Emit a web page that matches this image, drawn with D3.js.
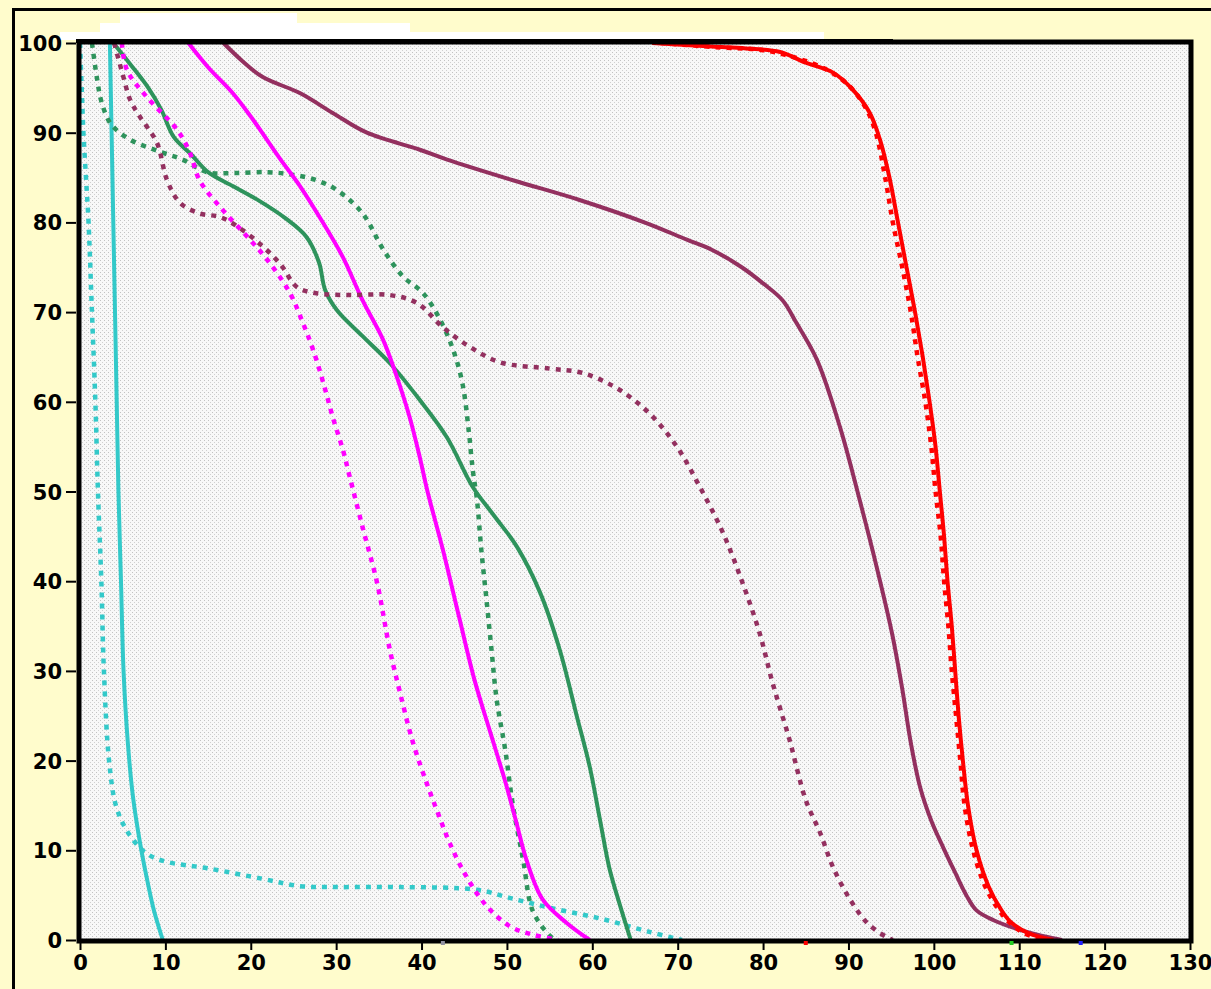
<!DOCTYPE html>
<html>
<head>
<meta charset="utf-8">
<script src="https://cdn.jsdelivr.net/npm/d3@7"></script>
<style>
  html, body { margin: 0; padding: 0; background: #fffccc; }
  svg { display: block; }
  .tick text { font-family: "DejaVu Sans", sans-serif; font-weight: bold; font-size: 21px; fill: #000; }
</style>
</head>
<body>
<svg id="chart" width="1211" height="989"></svg>
<script>
// ---------- data ----------
const xTicks = [0, 10, 20, 30, 40, 50, 60, 70, 80, 90, 100, 110, 120, 130];
const yTicks = [0, 10, 20, 30, 40, 50, 60, 70, 80, 90, 100];

// each series: [x, y] pairs
const cyanSolid = [[3.5,100],[3.7,90],[3.9,80],[4.1,70],[4.3,60],[4.5,50],[4.8,40],[5.1,30],[5.6,22],[6.2,16],[7.0,11],[7.8,7],[8.6,3.5],[9.2,1.5],[9.7,0]];
const cyanDotted = [[0,100],[0.2,95],[0.4,90],[0.7,85],[1.0,80],[1.4,70],[1.8,60],[2.1,50],[2.5,40],[2.8,30],[3.4,20],[4.2,15],[5.3,12.5],[6.8,10.5],[8.2,9.4],[10.2,8.7],[14.9,8.0],[21.5,6.8],[25.8,6.0],[30,5.9],[37.5,5.9],[46.5,5.6],[50.3,4.7],[55,3.6],[60.9,2.4],[66.7,0.9],[70.5,0]];
const greenSolid = [[3.9,100],[6,97.5],[8,95],[9.5,92.6],[11,89.5],[13,87.6],[15,85.6],[18,84],[21,82.4],[24,80.5],[26.5,78.4],[28,75.5],[28.7,72.5],[30.1,70.2],[33,67.4],[36.3,64.3],[39.8,60.2],[43,56],[46,50.5],[48.5,47.3],[51.2,43.8],[53.9,38.7],[56.2,32.3],[58.2,24.9],[59.7,19.3],[60.9,13.4],[62,8],[63.2,4],[64.5,0]];
const greenDotted = [[1.4,100],[2,96],[2.5,93.5],[3.6,91],[5.9,89.2],[9,88],[12,87],[14.9,85.6],[18,85.5],[22,85.6],[25,85.3],[27.7,84.7],[30.1,83.6],[33.1,81],[35.5,77],[37.8,74],[40.2,72.1],[42.2,69.1],[43.7,65.8],[44.8,62],[45.5,57],[46,52.4],[46.5,49],[47,43.5],[47.6,38],[48.2,32.3],[48.8,26.8],[49.8,21.2],[50.7,15],[51.9,8.9],[53,3.3],[54.7,0.8],[55.6,0]];
const magentaSolid = [[12.7,100],[15,97.3],[17.9,94.4],[20,91.8],[21.9,89.2],[23.5,87],[25.8,84],[28.5,79.9],[30.8,76.1],[33.1,71.3],[35.5,66.9],[37.1,62.8],[38.6,58.3],[39.8,53.8],[40.7,50],[42.5,43.5],[44.4,36],[46.2,29],[48.1,23],[49.7,18],[51,13.5],[52.3,8.9],[54.2,4.5],[57,1.9],[59.7,0]];
const magentaDotted = [[4.9,100],[5.5,97],[7.8,94],[11.4,90.3],[12.9,87.7],[14,84.7],[16.7,81.4],[19.6,78.4],[22.2,75.5],[24.6,72.1],[26.1,68.8],[27.3,65.8],[28.5,62.1],[29.6,58.3],[30.8,54.6],[31.6,51.6],[33.1,46],[34.8,39.8],[36.3,32.3],[37.5,27.5],[39,22],[40.6,17.5],[41.9,14.2],[43.3,10.8],[45.3,7],[47.7,3.7],[50.4,1.5],[53,0.6],[56,0]];
const maroonSolid = [[16.8,100],[19,98],[21.4,96.2],[25.8,94.4],[29.6,92.2],[33.6,90],[39.8,88.1],[43,87],[50.7,84.7],[58.5,82.5],[66.4,79.9],[71,78.1],[74.1,76.9],[77.5,75],[80,73.2],[82.3,71.3],[83.9,68.8],[86.3,64.7],[89,57.2],[91.3,49.1],[93.3,41.6],[95.1,34.2],[96.3,28],[97.3,22],[98.4,17],[99.7,13.3],[101.1,10.3],[102.5,7.5],[103.8,5],[105,3.3],[107,2.2],[110.9,0.9],[115,0]];
const maroonDotted = [[4,100],[5,96.5],[5.9,93.6],[7,91.8],[9,88.9],[10.2,84.7],[11.7,82.2],[14,81],[16.4,80.6],[18.5,79.5],[21.2,77.5],[23.5,75.3],[25.4,72.8],[27.7,72.1],[31.6,71.9],[36.3,71.9],[39.5,71],[42.5,68.3],[45.7,66.1],[49.2,64.4],[55,63.7],[58.9,63.2],[62.9,61.5],[66.7,58.7],[69.9,55],[72.6,50.5],[75.3,45.4],[77.6,39.8],[79.6,34.2],[81.1,28.7],[83.1,22.3],[85,15.6],[86.7,11.9],[88.2,8.1],[90.2,4.5],[92.2,1.9],[94.5,0.3],[95.2,0]];
const redSolid = [[67,100],[74,99.6],[78,99.4],[82,99],[85,97.8],[88.2,96.7],[90.5,94.8],[92.5,92.2],[93.7,89.2],[94.8,85],[95.8,80],[96.8,75],[97.8,70],[98.7,65],[99.5,60],[100.2,55],[100.7,50],[101.2,45],[101.6,40],[102.1,35],[102.5,30],[102.9,25],[103.4,20],[104,15],[105,10],[106.4,6],[107.8,3.5],[109,2],[111,0.8],[114,0]];
const redDotted = [[68,100],[75,99.5],[80,99.2],[84,98.3],[87.5,97],[90,95.3],[92,92.8],[93.2,90],[94.3,85],[95.2,80],[96.3,75],[97.3,70],[98.1,65],[99,60],[99.7,55],[100.2,50],[100.8,45],[101.2,40],[101.7,35],[102.1,30],[102.6,25],[103.1,20],[103.6,15],[104.6,10],[106,6],[107.5,3.5],[108.8,2],[110.5,0.8],[113,0]];

const seriesNames = ["cyanDotted","cyanSolid","greenDotted","greenSolid","magentaDotted","magentaSolid","maroonDotted","maroonSolid","redDotted","redSolid"];
const seriesData = [cyanDotted, cyanSolid, greenDotted, greenSolid, magentaDotted, magentaSolid, maroonDotted, maroonSolid, redDotted, redSolid];
const seriesColors = ["#33c9c9","#33c9c9","#2e935c","#2e935c","#ff00ff","#ff00ff","#93305f","#93305f","#ff0000","#ff0000"];
const seriesDashed = [true,false,true,false,true,false,true,false,true,false];

// small marks on the x axis
const axisMarkX = [42.5, 85, 109.1, 117.2];
const axisMarkColors = ["#9090a0", "#ff0000", "#22cc22", "#2020ff"];

// ---------- drawing ----------
const svg = d3.select("#chart");
const W = 1211, H = 989;

const x = d3.scaleLinear().domain([0, 130]).range([80, 1190]);
const y = d3.scaleLinear().domain([0, 100]).range([940, 43]);

// stipple pattern
const defs = svg.append("defs");
const pat = defs.append("pattern").attr("id", "stip").attr("patternUnits", "userSpaceOnUse")
  .attr("width", 4).attr("height", 4);
pat.append("rect").attr("width", 4).attr("height", 4).attr("fill", "#f8f8f8");
pat.append("rect").attr("x", 0).attr("y", 0).attr("width", 1).attr("height", 1).attr("fill", "#c2c2c2");
pat.append("rect").attr("x", 2).attr("y", 2).attr("width", 1).attr("height", 1).attr("fill", "#d0d0d0");

// page background
svg.append("rect").attr("width", W).attr("height", H).attr("fill", "#fffccc");

// outer frame lines
svg.append("rect").attr("x", 12).attr("y", 8).attr("width", W - 12).attr("height", 3).attr("fill", "#000");
svg.append("rect").attr("x", 12).attr("y", 8).attr("width", 3).attr("height", H - 8).attr("fill", "#000");

// white band artifacts at the top
svg.append("rect").attr("x", 120).attr("y", 13).attr("width", 177).attr("height", 10).attr("fill", "#fff");
svg.append("rect").attr("x", 100).attr("y", 23).attr("width", 310).attr("height", 10).attr("fill", "#fff");
svg.append("rect").attr("x", 60).attr("y", 32).attr("width", 764).attr("height", 8).attr("fill", "#fff");

// plot area
const clipId = "plotclip";
defs.append("clipPath").attr("id", clipId).append("rect")
  .attr("x", x(0) - 8).attr("y", y(100) - 4).attr("width", x(130) - x(0) + 8).attr("height", y(0) - y(100) + 6);

svg.append("rect")
  .attr("x", x(0)).attr("y", y(100)).attr("width", x(130) - x(0)).attr("height", y(0) - y(100))
  .attr("fill", "url(#stip)");

// curves
const line = d3.line().x(d => x(d[0])).y(d => y(d[1])).curve(d3.curveCatmullRom.alpha(0.5));
const gLines = svg.append("g").attr("clip-path", `url(#${clipId})`);
seriesData.forEach((data, i) => {
  gLines.append("path")
    .attr("class", seriesNames[i])
    .attr("d", line(data))
    .attr("fill", "none")
    .attr("stroke", seriesColors[i])
    .attr("stroke-width", seriesDashed[i] ? 4.5 : 4)
    .attr("stroke-dasharray", seriesDashed[i] ? "5,6" : null)
    .attr("stroke-linejoin", "round")
    .attr("stroke-linecap", "butt");
});

// border
svg.append("rect")
  .attr("x", x(0) - 1).attr("y", y(100) - 1).attr("width", x(130) - x(0) + 2).attr("height", y(0) - y(100) + 2)
  .attr("fill", "none").attr("stroke", "#000").attr("stroke-width", 5);
svg.append("rect").attr("x", 76).attr("y", 39).attr("width", 817).attr("height", 4).attr("fill", "#000");

// axes
const yAxis = d3.axisLeft(y).tickValues(yTicks).tickSize(10).tickPadding(4).tickFormat(d3.format("d"));
const gy = svg.append("g").attr("transform", "translate(76,0)").call(yAxis);
gy.select(".domain").remove();
gy.selectAll(".tick line").attr("stroke", "#000").attr("stroke-width", 2);
gy.selectAll(".tick text").attr("dy", "0.36em");

const xAxis = d3.axisBottom(x).tickValues(xTicks).tickSize(8).tickPadding(5).tickFormat(d3.format("d"));
const gx = svg.append("g").attr("transform", "translate(0,942)").call(xAxis);
gx.select(".domain").remove();
gx.selectAll(".tick line").attr("stroke", "#000").attr("stroke-width", 2);

// small marks on the x axis
svg.append("g").selectAll("rect").data(axisMarkX).join("rect")
  .attr("x", d => x(d) - 2).attr("y", 941).attr("width", 4).attr("height", 4)
  .attr("fill", (d, i) => axisMarkColors[i]);
</script>
</body>
</html>
